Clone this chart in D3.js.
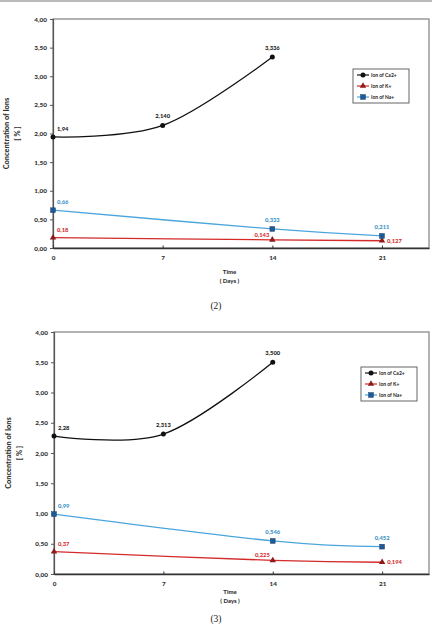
<!DOCTYPE html>
<html>
<head>
<meta charset="utf-8">
<script src="https://cdn.jsdelivr.net/npm/d3@7"></script>
<style>
  body { margin: 0; background: #fff; }
  svg { display: block; }
  text { font-family: Lato, "Open Sans", sans-serif; }
  text.caption { font-family: "Liberation Serif", "DejaVu Serif", serif; }
</style>
</head>
<body>
<div id="chart"></div>
<script>
// data
const xTicks = [0, 7, 14, 21];
const yTicks = [0, 0.5, 1, 1.5, 2, 2.5, 3, 3.5, 4];
const seriesNames = ["Ion of Ca2+", "Ion of K+", "Ion of Na+"];
const caDays = [0, 7, 14];
const kNaDays = [0, 14, 21];

// panel (2)
const ca2 = [1.94, 2.140, 3.336];
const k2 = [0.18, 0.143, 0.127];
const na2 = [0.66, 0.333, 0.211];
const caLabels2 = ["1,94", "2,140", "3,336"];
const kLabels2 = ["0,18", "0,143", "0,127"];
const naLabels2 = ["0,66", "0,333", "0,211"];

// panel (3)
const ca3 = [2.28, 2.313, 3.500];
const k3 = [0.37, 0.225, 0.194];
const na3 = [0.99, 0.546, 0.452];
const caLabels3 = ["2,28", "2,313", "3,500"];
const kLabels3 = ["0,37", "0,225", "0,194"];
const naLabels3 = ["0,99", "0,546", "0,452"];

const W = 432, H = 628;
const svg = d3.select("#chart").append("svg")
    .attr("width", W).attr("height", H);

// page rule at the very top
svg.append("line")
    .attr("x1", 0).attr("x2", W).attr("y1", 1).attr("y2", 1)
    .attr("stroke", "#777").attr("stroke-width", 1.2);

const fmtTick = d => d3.format(".2f")(d).replace(".", ",");

const styles = [
    {line: "#111", fill: "#111", label: "#222", marker: "circle"},
    {line: "#d42a2a", fill: "#8e1b1b", label: "#d43030", marker: "triangle"},
    {line: "#4aa5dc", fill: "#1f5a96", label: "#3b93c8", marker: "square"}
];

function drawMarker(g, type, x, y, st) {
    if (type === "circle") {
        g.append("circle").attr("cx", x).attr("cy", y).attr("r", 2.5).attr("fill", st.fill);
    } else if (type === "triangle") {
        g.append("path").attr("d", d3.symbol(d3.symbolTriangle, 18)())
            .attr("transform", `translate(${x},${y})`).attr("fill", st.fill);
    } else {
        g.append("rect").attr("x", x - 2.4).attr("y", y - 2.4).attr("width", 4.8).attr("height", 4.8)
            .attr("fill", st.fill).attr("stroke", "#1a3f6b").attr("stroke-width", 0.5);
    }
}

function drawPanel(p) {
    const g = svg.append("g");
    const x = d3.scaleLinear().domain([0, 24]).range([p.left, p.right]);
    const y = d3.scaleLinear().domain([0, 4]).range([p.bottom, p.top]);

    // plot frame
    g.append("rect")
        .attr("x", p.left).attr("y", p.top)
        .attr("width", p.right - p.left).attr("height", p.bottom - p.top)
        .attr("fill", "none").attr("stroke", "#8a8a8a").attr("stroke-width", 1.3);

    // y axis
    const yAxis = g.append("g")
        .attr("transform", `translate(${p.left},0)`)
        .call(d3.axisLeft(y).tickValues(yTicks).tickFormat(fmtTick).tickSize(3).tickPadding(3));
    yAxis.select(".domain").attr("stroke", "#555").attr("stroke-width", 1.2);
    yAxis.selectAll(".tick line").attr("stroke", "#555");
    yAxis.selectAll("text").attr("font-size", 6.4).attr("font-weight", 900).attr("fill", "#333");

    // x axis
    const xAxis = g.append("g")
        .attr("transform", `translate(0,${p.bottom})`)
        .call(d3.axisBottom(x).tickValues(xTicks).tickSizeInner(-2.5).tickSizeOuter(0).tickPadding(p.xPad));
    xAxis.select(".domain").attr("stroke", "#333").attr("stroke-width", 1.3);
    xAxis.selectAll(".tick line").attr("stroke", "#333");
    xAxis.selectAll("text").attr("font-size", 6.4).attr("font-weight", 900).attr("fill", "#333");

    // axis titles
    g.append("text").attr("x", (x(0) + x(21)) / 2 + 12).attr("y", p.timeY)
        .attr("text-anchor", "middle").attr("font-size", 6).attr("font-weight", 900).attr("fill", "#333")
        .text("Time");
    g.append("text").attr("x", (x(0) + x(21)) / 2 + 12).attr("y", p.timeY + 9)
        .attr("text-anchor", "middle").attr("font-size", 6).attr("font-weight", 900).attr("fill", "#333")
        .text("( Days )");
    const midY = (p.top + p.bottom) / 2;
    g.append("text").attr("transform", `translate(${p.titleX},${midY}) rotate(-90)`)
        .attr("text-anchor", "middle").attr("font-size", 7.4).attr("font-weight", 900).attr("fill", "#333")
        .text("Concentration of Ions");
    g.append("text").attr("transform", `translate(${p.titleX + 11},${midY}) rotate(-90)`)
        .attr("text-anchor", "middle").attr("font-size", 7.4).attr("font-weight", 900).attr("fill", "#333")
        .text("[ % ]");

    // caption
    svg.append("text").attr("class", "caption").attr("x", 216).attr("y", p.capY)
        .attr("text-anchor", "middle").attr("font-size", 9.5)
        .attr("fill", "#222").text(p.caption);

    const line = d3.line().x(d => x(d[0])).y(d => y(d[1])).curve(d3.curveCardinal.tension(0));

    // label placement: r = right-above, t = top, l = left-above, e = right side
    const place = {
        r: [4, -6, "start"], t: [0, -7, "middle"], l: [-3, -3, "end"], e: [5, 2, "start"]
    };

    p.series.forEach((s, i) => {
        const st = styles[i];
        const pts = s.days.map((d, j) => [d, s.values[j]]);
        g.append("path").attr("d", line(pts)).attr("fill", "none")
            .attr("stroke", st.line).attr("stroke-width", 1.3);
        pts.forEach((pt, j) => {
            drawMarker(g, st.marker, x(pt[0]), y(pt[1]), st);
            const pl = place[s.pos[j]];
            g.append("text").attr("x", x(pt[0]) + pl[0]).attr("y", y(pt[1]) + pl[1])
                .attr("text-anchor", pl[2]).attr("font-size", 5.8).attr("font-weight", 900)
                .attr("fill", st.label).text(s.labels[j]);
        });
    });

    // legend
    const lg = g.append("g").attr("transform", `translate(${p.legX},${p.legY})`);
    lg.append("rect").attr("width", 56).attr("height", 34)
        .attr("fill", "#fff").attr("stroke", "#555").attr("stroke-width", 0.9);
    seriesNames.forEach((name, i) => {
        const st = styles[i];
        const ly = 6 + i * 11;
        lg.append("line").attr("x1", 4).attr("x2", 16).attr("y1", ly).attr("y2", ly)
            .attr("stroke", st.line).attr("stroke-width", 1.2);
        drawMarker(lg, st.marker, 10, ly, st);
        lg.append("text").attr("x", 18).attr("y", ly + 1.8)
            .attr("font-size", 5).attr("font-weight", "bold").attr("fill", "#222").text(name);
    });
}

drawPanel({
    top: 19, bottom: 248, left: 53, right: 429, xPad: 7,
    timeY: 274, capY: 309, titleX: 9, caption: "(2)",
    legX: 353, legY: 69,
    series: [
        {days: caDays, values: ca2, labels: caLabels2, pos: ["r", "t", "t"]},
        {days: kNaDays, values: k2, labels: kLabels2, pos: ["r", "l", "e"]},
        {days: kNaDays, values: na2, labels: naLabels2, pos: ["r", "t", "t"]}
    ]
});

drawPanel({
    top: 332, bottom: 574, left: 54, right: 429, xPad: 7,
    timeY: 594, capY: 622, titleX: 11, caption: "(3)",
    legX: 361, legY: 367,
    series: [
        {days: caDays, values: ca3, labels: caLabels3, pos: ["r", "t", "t"]},
        {days: kNaDays, values: k3, labels: kLabels3, pos: ["r", "l", "e"]},
        {days: kNaDays, values: na3, labels: naLabels3, pos: ["r", "t", "t"]}
    ]
});
</script>
</body>
</html>
